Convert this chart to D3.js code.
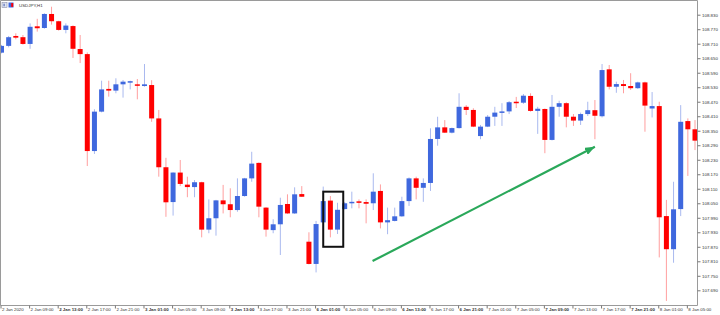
<!DOCTYPE html>
<html>
<head>
<meta charset="utf-8">
<script src="https://cdn.jsdelivr.net/npm/d3@7"></script>
<style>
  body { margin: 0; background: #fff; }
  svg { display: block; }
</style>
</head>
<body>
<div id="chart"></div>
<script>
// USDJPY H1 bars, 2 Jan 05:00 .. 8 Jan 06:00
const opens = [
  108.673,108.701,108.742,108.737,108.709,108.782,108.775,108.833,108.803,108.767,
  108.783,108.688,108.667,108.266,108.429,108.523,108.516,108.542,108.550,108.542,
  108.535,108.539,108.401,108.199,108.055,108.177,108.127,108.117,108.137,107.941,
  107.988,108.062,108.046,108.022,108.080,108.153,108.217,108.032,107.939,107.963,
  108.047,108.008,108.088,107.891,107.799,107.971,108.061,107.941,108.026,108.051,
  108.058,108.055,108.050,108.101,107.971,107.977,107.996,108.059,108.153,108.114,
  108.134,108.316,108.364,108.342,108.361,108.449,108.436,108.328,108.367,108.408,
  108.425,108.430,108.470,108.466,108.494,108.432,108.440,108.312,108.449,108.464,
  108.408,108.392,108.419,108.435,108.410,108.604,108.532,108.543,108.535,108.526,
  108.550,108.442,108.452,107.997,107.860,108.026,108.390,108.356
];
const highs = [
  108.705,108.742,108.753,108.746,108.794,108.813,108.836,108.863,108.805,108.794,
  108.786,108.746,108.674,108.439,108.557,108.557,108.567,108.560,108.557,108.564,
  108.626,108.559,108.436,108.238,108.178,108.229,108.160,108.146,108.139,108.066,
  108.064,108.126,108.112,108.153,108.155,108.263,108.219,108.034,107.984,108.073,
  108.087,108.116,108.121,107.930,107.977,108.119,108.080,108.052,108.055,108.098,
  108.066,108.066,108.174,108.128,108.032,108.032,108.077,108.157,108.160,108.153,
  108.360,108.408,108.394,108.363,108.505,108.456,108.443,108.374,108.415,108.449,
  108.464,108.473,108.490,108.502,108.505,108.449,108.442,108.498,108.474,108.468,
  108.419,108.425,108.470,108.477,108.626,108.622,108.553,108.560,108.588,108.553,
  108.553,108.510,108.470,108.064,108.139,108.456,108.401,108.394
];
const lows = [
  108.670,108.695,108.728,108.706,108.689,108.760,108.772,108.789,108.764,108.753,
  108.651,108.630,108.204,108.254,108.426,108.491,108.505,108.487,108.521,108.480,
  108.532,108.387,108.160,107.994,107.999,108.121,108.075,108.075,107.909,107.926,
  107.916,108.008,107.992,108.015,108.077,108.139,107.992,107.912,107.926,107.836,
  108.006,108.006,108.076,107.797,107.764,107.967,107.909,107.923,108.024,108.029,
  108.029,107.967,108.022,107.946,107.922,107.975,107.994,108.039,108.066,108.056,
  108.101,108.288,108.341,108.339,108.359,108.415,108.365,108.315,108.365,108.370,
  108.370,108.419,108.444,108.461,108.429,108.337,108.257,108.310,108.408,108.364,
  108.370,108.374,108.411,108.315,108.405,108.521,108.507,108.505,108.519,108.523,
  108.346,108.405,107.826,107.646,107.804,107.997,108.163,108.270
];
const closes = [
  108.701,108.737,108.735,108.709,108.780,108.774,108.833,108.803,108.767,108.785,
  108.689,108.667,108.266,108.429,108.521,108.516,108.542,108.553,108.555,108.536,
  108.542,108.401,108.199,108.054,108.177,108.130,108.117,108.137,107.941,107.988,
  108.062,108.046,108.022,108.080,108.153,108.214,108.036,107.941,107.963,108.043,
  108.008,108.087,108.077,107.799,107.964,108.059,107.941,108.023,108.050,108.056,
  108.052,108.048,108.098,107.971,107.980,107.996,108.059,108.153,108.114,108.134,
  108.316,108.364,108.342,108.361,108.449,108.436,108.367,108.367,108.408,108.425,
  108.430,108.468,108.464,108.495,108.432,108.441,108.312,108.449,108.464,108.408,
  108.392,108.419,108.435,108.412,108.601,108.532,108.543,108.535,108.526,108.550,
  108.454,108.452,107.992,107.860,108.025,108.387,108.356,108.309
];

// one time label every 4 bars, starting with bar 0
const timeLabels = [
  "2 Jan 2020","2 Jan 09:00","2 Jan 13:00","2 Jan 17:00","2 Jan 21:00",
  "3 Jan 01:00","3 Jan 05:00","3 Jan 09:00","3 Jan 13:00","3 Jan 17:00","3 Jan 21:00",
  "6 Jan 01:00","6 Jan 05:00","6 Jan 09:00","6 Jan 13:00","6 Jan 17:00","6 Jan 21:00",
  "7 Jan 01:00","7 Jan 05:00","7 Jan 09:00","7 Jan 13:00","7 Jan 17:00","7 Jan 21:00",
  "8 Jan 01:00","8 Jan 05:00"
];
const boldLabels = ["2 Jan 13:00","3 Jan 01:00","3 Jan 13:00","6 Jan 01:00",
  "6 Jan 13:00","6 Jan 21:00","7 Jan 09:00","7 Jan 21:00"];
const priceTicks = [108.830,108.770,108.710,108.650,108.590,108.530,108.470,108.410,
  108.350,108.290,108.230,108.170,108.110,108.050,107.990,107.930,107.870,107.810,
  107.750,107.690];

const symbolName = "USDJPY,H1";
// annotations, in bar index / price units
const boxMark = { from: 45, to: 47.8, top: 108.098, bottom: 107.870 };
const arrowMark = { from: [51.9, 107.811], to: [83.0, 108.284] };

const W = 720, H = 315;
const plotRight = 697.5, plotBottom = 305.5;
const bars = opens.map((o, i) => ({ i, o, h: highs[i], l: lows[i], c: closes[i] }));

const x = d3.scaleLinear().domain([0, bars.length - 1]).range([1.5, 695]);
const y = d3.scaleLinear().domain([107.690, 108.830]).range([290.3, 14.7]);

const svg = d3.select("#chart").append("svg")
  .attr("width", W).attr("height", H)
  .style("font-family", "'Liberation Sans', Arial, sans-serif");

svg.append("defs").append("clipPath").attr("id", "plot")
  .append("rect").attr("x", 0.5).attr("y", 0.5)
  .attr("width", plotRight - 0.5).attr("height", plotBottom - 0.5);

const plot = svg.append("g").attr("clip-path", "url(#plot)");

const up = d => d.c >= d.o;

// wicks
plot.selectAll(".wick").data(bars).enter().append("line")
  .attr("class", "wick")
  .attr("x1", d => x(d.i)).attr("x2", d => x(d.i))
  .attr("y1", d => y(d.h)).attr("y2", d => y(d.l))
  .attr("stroke", d => up(d) ? "#a9b9ef" : "#ff9f9f")
  .attr("stroke-width", 1);

// bodies
plot.selectAll(".body").data(bars).enter().append("rect")
  .attr("class", "body")
  .attr("x", d => x(d.i) - 2.5)
  .attr("width", 5)
  .attr("y", d => y(Math.max(d.o, d.c)))
  .attr("height", d => Math.max(1.5, Math.abs(y(d.o) - y(d.c))))
  .attr("fill", d => up(d) ? "#3f68de" : "#ff0000");

// black box around the bars
plot.append("rect")
  .attr("x", x(boxMark.from)).attr("y", y(boxMark.top))
  .attr("width", x(boxMark.to) - x(boxMark.from))
  .attr("height", y(boxMark.bottom) - y(boxMark.top))
  .attr("fill", "none").attr("stroke", "#111").attr("stroke-width", 2);

// green arrow
const green = "#2aa85a";
svg.select("defs").append("marker")
  .attr("id", "head").attr("markerUnits", "userSpaceOnUse")
  .attr("viewBox", "0 0 10 8").attr("refX", 10).attr("refY", 4)
  .attr("markerWidth", 10).attr("markerHeight", 8).attr("orient", "auto")
  .append("path").attr("d", "M0,0 L10,4 L0,8 Z").attr("fill", green);

plot.append("line")
  .attr("x1", x(arrowMark.from[0])).attr("y1", y(arrowMark.from[1]))
  .attr("x2", x(arrowMark.to[0])).attr("y2", y(arrowMark.to[1]))
  .attr("stroke", green).attr("stroke-width", 2.2)
  .attr("marker-end", "url(#head)");

// frame
svg.append("path")
  .attr("d", `M${plotRight},${plotBottom} H0.5 V0.5 H${plotRight} Z`)
  .attr("fill", "none").attr("stroke", "#9a9a9a").attr("stroke-width", 1);

// bottom time axis
const gx = svg.append("g").attr("transform", `translate(0,${plotBottom})`)
  .call(d3.axisBottom(x)
    .tickValues(timeLabels.map((d, k) => k * 4))
    .tickFormat((d, k) => timeLabels[k])
    .tickSize(3).tickSizeOuter(0));
gx.select(".domain").remove();
gx.selectAll(".tick line").attr("stroke", "#777").attr("transform", "translate(-1,0)");
gx.selectAll(".tick text")
  .attr("text-anchor", "start").attr("x", 0).attr("y", 5).attr("dy", 0)
  .attr("fill", "#333").style("font-size", "4.4px")
  .style("font-weight", d => boldLabels.includes(timeLabels[d / 4]) ? "bold" : "normal");

// right price axis
const gy = svg.append("g").attr("transform", `translate(${plotRight},0)`)
  .call(d3.axisRight(y).tickValues(priceTicks).tickFormat(d3.format(".3f"))
    .tickSize(3).tickSizeOuter(0));
gy.select(".domain").remove();
gy.selectAll(".tick line").attr("stroke", "#777");
gy.selectAll(".tick text")
  .attr("x", 4.5).attr("dy", "0.35em")
  .attr("fill", "#333").style("font-size", "4.4px");

// symbol label with small icon
const icon = svg.append("g").attr("transform", "translate(2,2.5)");
icon.append("rect").attr("x", 0).attr("y", 0).attr("width", 5).attr("height", 5)
  .attr("fill", "#dfe4f2").attr("stroke", "#8a8fa8").attr("stroke-width", 0.6);
icon.append("rect").attr("x", 1.5).attr("y", 1.2).attr("width", 1.2).attr("height", 2.6).attr("fill", "#5a6fb8");
icon.append("rect").attr("x", 6.5).attr("y", 0).attr("width", 5).attr("height", 5).attr("fill", "#3f68de");
icon.append("rect").attr("x", 9.2).attr("y", 0.6).attr("width", 2).attr("height", 3.8).attr("fill", "#ff0000");
svg.append("text")
  .attr("x", 19).attr("y", 6.8)
  .attr("fill", "#333").style("font-size", "4.4px")
  .text(symbolName);
</script>
</body>
</html>
